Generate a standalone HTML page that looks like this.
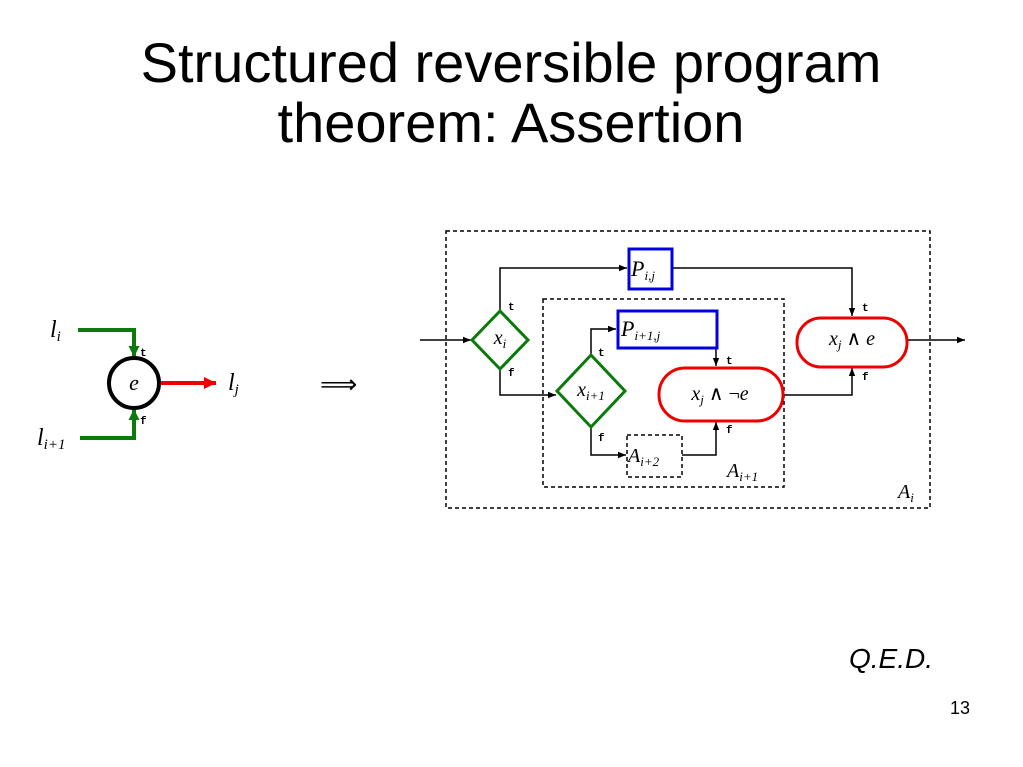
<!DOCTYPE html>
<html><head><meta charset="utf-8"><style>
body{margin:0;background:#fff;width:1023px;height:767px;overflow:hidden}
svg{display:block}
.m{font-family:"Liberation Serif",serif;font-style:italic}
.s{font-family:"Liberation Mono",monospace;font-weight:bold;font-size:11px}
</style></head><body>
<svg width="1023" height="767" viewBox="0 0 1023 767">
<defs>
<marker id="a" viewBox="0 0 10 10" refX="10" refY="5" markerWidth="8" markerHeight="8" orient="auto-start-reverse" markerUnits="userSpaceOnUse"><path d="M0,1 L10,5 L0,9z" fill="#000"/></marker>
<marker id="g" viewBox="0 0 10 10" refX="10" refY="5" markerWidth="11" markerHeight="11" orient="auto" markerUnits="userSpaceOnUse"><path d="M0,0 L10,5 L0,10z" fill="#0a7a0a"/></marker>
<marker id="r" viewBox="0 0 10 10" refX="10" refY="5" markerWidth="12" markerHeight="12" orient="auto" markerUnits="userSpaceOnUse"><path d="M0,0 L10,5 L0,10z" fill="#e00"/></marker>
</defs>
<text x="511" y="82" text-anchor="middle" font-family="Liberation Sans,sans-serif" font-size="56">Structured reversible program</text>
<text x="511" y="142" text-anchor="middle" font-family="Liberation Sans,sans-serif" font-size="56">theorem: Assertion</text>

<!-- left diagram -->
<polyline points="78,330 134,330 134,357" fill="none" stroke="#0a7a0a" stroke-width="4" marker-end="url(#g)"/>
<polyline points="80,438 134,438 134,409" fill="none" stroke="#0a7a0a" stroke-width="4" marker-end="url(#g)"/>
<line x1="160" y1="383" x2="216" y2="383" stroke="#e00" stroke-width="4" marker-end="url(#r)"/>
<circle cx="134" cy="383" r="25" fill="none" stroke="#000" stroke-width="4"/>
<text x="134" y="390" text-anchor="middle" class="m" font-size="22">e</text>
<text x="140" y="356" class="s">t</text>
<text x="140" y="424" class="s">f</text>
<text x="50" y="337" class="m" font-size="24">l<tspan font-size="15" dy="4">i</tspan></text>
<text x="37" y="445" class="m" font-size="24">l<tspan font-size="15" dy="4">i+1</tspan></text>
<text x="228" y="390" class="m" font-size="24">l<tspan font-size="15" dy="4">j</tspan></text>
<text x="320" y="393" font-family="DejaVu Sans,sans-serif" font-size="26">⟹</text>

<!-- boxes -->
<g fill="none" stroke="#000" stroke-width="1.5" stroke-dasharray="4,3">
<rect x="446" y="231" width="484" height="277"/>
<rect x="543" y="299" width="241" height="188"/>
<rect x="627" y="435" width="55" height="42"/>
</g>
<!-- connectors -->
<g fill="none" stroke="#000" stroke-width="1.5">
<line x1="420" y1="340" x2="471" y2="340" marker-end="url(#a)"/>
<polyline points="500,311 500,268 627,268" marker-end="url(#a)"/>
<polyline points="672,268 852,268 852,316" marker-end="url(#a)"/>
<polyline points="500,369 500,395 556,395" marker-end="url(#a)"/>
<polyline points="591,355 591,329 616,329" marker-end="url(#a)"/>
<polyline points="717,329 716,329 716,366" marker-end="url(#a)"/>
<polyline points="591,427 591,455 626,455" marker-end="url(#a)"/>
<polyline points="682,455 716,455 716,422" marker-end="url(#a)"/>
<polyline points="783,395 852,395 852,368" marker-end="url(#a)"/>
<line x1="907" y1="340" x2="965" y2="340" marker-end="url(#a)"/>
</g>
<!-- nodes -->
<polygon points="500,311 528,340 500,369 472,340" fill="#fff" stroke="#0a7a0a" stroke-width="3"/>
<polygon points="591,355 625,391 591,427 557,391" fill="#fff" stroke="#0a7a0a" stroke-width="3"/>
<rect x="629" y="249" width="43" height="40" fill="#fff" stroke="#0000e0" stroke-width="3"/>
<rect x="618" y="311" width="99" height="37" fill="#fff" stroke="#0000e0" stroke-width="3"/>
<rect x="659" y="368" width="124" height="53" rx="26" fill="#fff" stroke="#e00" stroke-width="3"/>
<rect x="797" y="318" width="110" height="49" rx="24" fill="#fff" stroke="#e00" stroke-width="3"/>

<g class="m">
<text x="500" y="344" text-anchor="middle" font-size="20">x<tspan font-size="13" dy="4">i</tspan></text>
<text x="591" y="396" text-anchor="middle" font-size="20">x<tspan font-size="13" dy="4">i+1</tspan></text>
<text x="631" y="276" font-size="22">P<tspan font-size="13" dy="4">i,j</tspan></text>
<text x="621" y="336" font-size="22">P<tspan font-size="13" dy="4">i+1,j</tspan></text>
<text x="720" y="400" text-anchor="middle" font-size="20">x<tspan font-size="13" dy="4">j</tspan><tspan dy="-4" font-style="normal"> ∧ ¬</tspan>e</text>
<text x="852" y="345" text-anchor="middle" font-size="20">x<tspan font-size="13" dy="4">j</tspan><tspan dy="-4" font-style="normal"> ∧ </tspan>e</text>
<text x="628" y="462" font-size="20">A<tspan font-size="13" dy="4">i+2</tspan></text>
<text x="727" y="477" font-size="20">A<tspan font-size="13" dy="4">i+1</tspan></text>
<text x="898" y="498" font-size="20">A<tspan font-size="13" dy="4">i</tspan></text>
</g>
<g class="s">
<text x="508" y="310">t</text><text x="508" y="376">f</text>
<text x="598" y="356">t</text><text x="598" y="441">f</text>
<text x="726" y="364">t</text><text x="726" y="433">f</text>
<text x="862" y="311">t</text><text x="862" y="380">f</text>
</g>
<text x="849" y="668" font-family="Liberation Sans,sans-serif" font-style="italic" font-size="28">Q.E.D.</text>
<text x="950" y="714" font-family="Liberation Sans,sans-serif" font-size="18">13</text>
</svg>
</body></html>
